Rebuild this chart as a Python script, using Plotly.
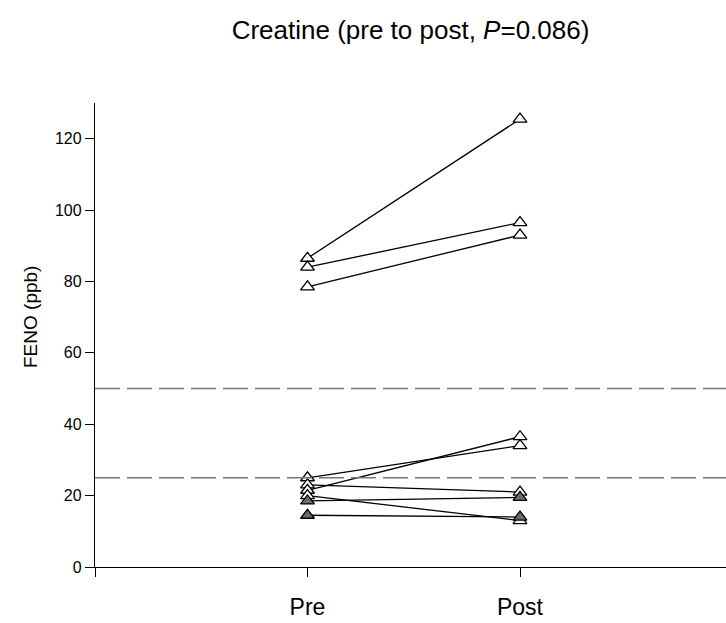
import plotly.graph_objects as go

# Data: FENO (ppb) pre and post creatine, per subject
pre_open = [86.5, 84, 78.5, 25, 23, 21.5, 20]
post_open = [125.5, 96.5, 93, 34, 21, 36.5, 13]
pre_filled = [18.5, 14.5]
post_filled = [19.5, 14]
x_positions = [1, 2]
x_labels = ["Pre", "Post"]
y_ticks = [0, 20, 40, 60, 80, 100, 120]
ref_lines = [50, 25]

FONT = "Liberation Sans, Arial, sans-serif"

fig = go.Figure()

# connecting lines
for a, b in list(zip(pre_open, post_open)) + list(zip(pre_filled, post_filled)):
    fig.add_trace(go.Scatter(x=x_positions, y=[a, b], mode="lines",
                             line=dict(color="black", width=1.3),
                             showlegend=False, hoverinfo="skip"))

# open markers
fig.add_trace(go.Scatter(
    x=[1] * len(pre_open) + [2] * len(post_open),
    y=pre_open + post_open, mode="markers",
    marker=dict(symbol="triangle-up", size=12, color="white",
                line=dict(color="black", width=1.3)),
    showlegend=False))

# filled markers
fig.add_trace(go.Scatter(
    x=[1] * len(pre_filled) + [2] * len(post_filled),
    y=pre_filled + post_filled, mode="markers",
    marker=dict(symbol="triangle-up", size=12, color="#6b6b6b",
                line=dict(color="black", width=1.3)),
    showlegend=False))

for v in ref_lines:
    fig.add_shape(type="line", xref="paper", yref="y", x0=0, x1=1, y0=v, y1=v,
                  line=dict(color="#777777", width=1.5, dash="25px,7px"))

fig.add_annotation(text="FENO (ppb)", textangle=-90,
                   xref="paper", yref="paper",
                   x=-(95 - 30) / 631, y=(567 - 317) / 464,
                   xanchor="center", yanchor="middle", showarrow=False,
                   font=dict(size=19, family=FONT, color="black"))

fig.update_layout(
    width=726, height=623,
    margin=dict(l=95, r=0, t=103, b=56),
    plot_bgcolor="white", paper_bgcolor="white",
    font=dict(family=FONT, color="black"),
    title=dict(text="Creatine (pre to post, <i>P</i>=0.086)",
               x=0.5, xref="paper", xanchor="center",
               y=1 - 30 / 623, yref="container", yanchor="middle",
               font=dict(size=26, family=FONT, color="black")),
    xaxis=dict(range=[0, 631 / 212.5], showgrid=False, zeroline=False,
               showline=True, linecolor="black", linewidth=1.3,
               tickmode="array", tickvals=[0] + x_positions, ticktext=[""] + x_labels,
               ticks="outside", ticklen=9, tickwidth=1.2, tickcolor="black",
               ticklabelstandoff=10,
               tickfont=dict(size=23, family=FONT, color="black")),
    yaxis=dict(range=[0, 130], showgrid=False, zeroline=False,
               showline=True, linecolor="black", linewidth=1.3,
               tickmode="array", tickvals=y_ticks,
               ticks="outside", ticklen=9, tickwidth=1.2, tickcolor="black",
               tickfont=dict(size=16, family=FONT, color="black")),
)

fig.write_html("out.html")
